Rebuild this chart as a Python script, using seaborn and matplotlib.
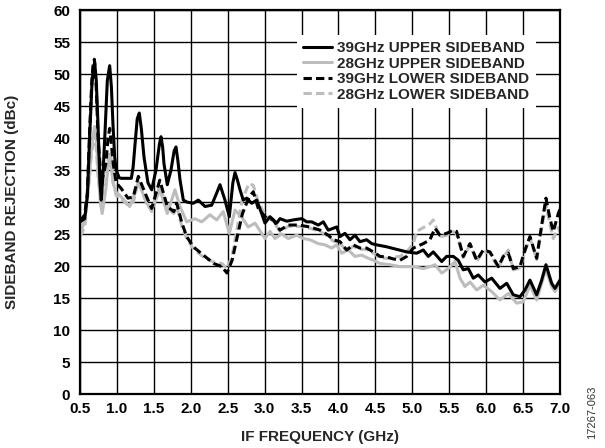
import matplotlib
matplotlib.use("Agg")
import matplotlib.pyplot as plt
import seaborn as sns
import pandas as pd

# IF frequency (GHz) and sideband rejection (dBc) for each trace
freq_39u = [0.50, 0.564, 0.60, 0.63, 0.66, 0.68, 0.699, 0.72, 0.744, 0.77, 0.788, 0.81, 0.839, 0.87,
            0.902, 0.925, 0.947, 0.97, 0.99, 1.03, 1.059, 1.195, 1.22, 1.245, 1.275, 1.303, 1.33,
            1.367, 1.42, 1.471, 1.529, 1.575, 1.597, 1.62, 1.637, 1.682, 1.732, 1.775, 1.80, 1.825,
            1.854, 1.899, 1.945, 2.034, 2.102, 2.193, 2.283, 2.351, 2.396, 2.463, 2.522, 2.57, 2.599,
            2.63, 2.667, 2.711, 2.757, 2.825, 2.893, 2.96, 3.005, 3.073, 3.163, 3.208, 3.299, 3.388,
            3.502, 3.57, 3.637, 3.727, 3.795, 3.862, 3.976, 4.021, 4.088, 4.156, 4.224, 4.291,
            4.382, 4.45, 4.518, 4.653, 4.788, 4.924, 5.059, 5.149, 5.216, 5.284, 5.398, 5.465,
            5.555, 5.622, 5.69, 5.758, 5.826, 5.893, 5.984, 6.075, 6.187, 6.278, 6.367, 6.458,
            6.526, 6.593, 6.684, 6.752, 6.81, 6.887, 6.932, 7.0]
rej_39u = [26.9, 27.4, 31.0, 40.0, 48.0, 51.0, 51.8, 49.0, 42.0, 33.0, 30.3, 34.0, 41.0, 49.0,
           51.3, 48.0, 42.0, 37.0, 35.0, 33.8, 33.7, 33.7, 35.5, 39.0, 43.0, 43.9, 41.5,
           37.0, 33.0, 31.9, 35.0, 39.0, 40.2, 38.5, 36.0, 32.7, 35.0, 38.0, 38.6, 36.5,
           33.5, 30.3, 30.0, 29.8, 30.3, 29.3, 29.5, 31.4, 32.7, 30.3, 27.7, 33.0, 34.6,
           33.5, 31.9, 30.3, 30.6, 29.8, 30.3, 28.2, 26.7, 27.7, 26.7, 27.4, 27.0, 27.2,
           27.4, 26.9, 26.9, 26.4, 26.9, 25.6, 26.1, 24.6, 25.1, 24.1, 24.8, 23.8,
           24.1, 23.5, 23.3, 23.0, 22.6, 22.2, 22.0, 22.5, 21.5, 22.2, 20.7, 21.5,
           21.5, 20.9, 19.4, 19.6, 18.1, 18.6, 17.5, 18.1, 16.5, 17.3, 15.5, 15.2,
           16.25, 17.8, 15.5, 17.8, 20.2, 17.3, 16.5, 17.8]

freq_28u = [0.50, 0.56, 0.62, 0.66, 0.699, 0.72, 0.744, 0.775, 0.80, 0.85, 0.88, 0.902, 0.925,
            0.947, 0.99, 1.059, 1.173, 1.25, 1.29, 1.403, 1.471, 1.583, 1.682, 1.786, 1.854, 1.945,
            2.057, 2.148, 2.26, 2.351, 2.44, 2.522, 2.599, 2.69, 2.779, 2.87, 2.96, 3.005, 3.073,
            3.14, 3.231, 3.32, 3.434, 3.524, 3.614, 3.727, 3.818, 3.908, 3.976, 4.044, 4.133,
            4.224, 4.314, 4.404, 4.472, 4.562, 4.698, 4.833, 5.013, 5.149, 5.239, 5.307, 5.398,
            5.487, 5.578, 5.646, 5.713, 5.781, 5.872, 5.961, 6.075, 6.187, 6.3, 6.413, 6.503,
            6.593, 6.684, 6.752, 6.81, 6.887, 6.932, 7.0]
rej_28u = [24.8, 27.0, 33.0, 39.0, 41.8, 40.0, 35.0, 30.0, 28.2, 32.0, 35.5, 36.8, 35.5,
           33.0, 31.5, 30.8, 29.3, 31.5, 33.2, 29.8, 28.8, 31.9, 28.2, 31.9, 29.3, 26.9,
           27.4, 26.9, 28.0, 27.2, 28.5, 25.1, 28.75, 27.6, 26.1, 26.7, 25.1, 24.3, 25.4,
           24.3, 25.0, 24.3, 24.8, 24.3, 24.1, 23.5, 23.3, 22.8, 23.3, 22.0, 22.5,
           21.5, 21.7, 21.2, 20.9, 20.4, 20.2, 19.9, 19.9, 19.6, 19.9, 20.2, 18.9,
           19.6, 20.7, 18.1, 16.8, 17.5, 16.25, 17.0, 16.0, 14.7, 15.7, 14.2, 14.4,
           17.0, 14.7, 17.3, 19.5, 16.8, 16.0, 17.3]

freq_39l = [0.50, 0.564, 0.60, 0.63, 0.66, 0.68, 0.695, 0.72, 0.744, 0.79, 0.85, 0.88, 0.902,
            0.925, 0.95, 0.99, 1.059, 1.15, 1.222, 1.29, 1.403, 1.471, 1.58, 1.682, 1.77, 1.81,
            1.88, 1.945, 2.034, 2.17, 2.31, 2.42, 2.49, 2.56, 2.63, 2.70, 2.79, 2.847, 2.914,
            3.005, 3.117, 3.208, 3.32, 3.457, 3.614, 3.75, 3.862, 3.93, 4.021, 4.111, 4.20, 4.291,
            4.382, 4.472, 4.562, 4.653, 4.743, 4.833, 4.924, 5.013, 5.149, 5.239, 5.307, 5.375,
            5.465, 5.555, 5.60, 5.69, 5.781, 5.872, 5.961, 6.052, 6.165, 6.232, 6.30, 6.367,
            6.458, 6.526, 6.593, 6.684, 6.752, 6.81, 6.864, 6.909, 6.977, 7.0]
rej_39l = [27.0, 28.0, 31.5, 41.0, 49.0, 51.8, 52.3, 48.0, 40.0, 33.0, 36.0, 40.0, 41.5,
           39.0, 36.0, 33.0, 32.1, 30.6, 30.8, 34.0, 30.8, 29.0, 33.4, 29.3, 28.5, 29.8,
           26.7, 24.6, 23.0, 21.7, 20.4, 19.9, 18.9, 20.9, 24.6, 28.2, 30.8, 31.6, 29.0,
           27.7, 27.2, 25.6, 26.4, 26.4, 26.1, 25.6, 24.8, 24.1, 23.8, 22.5, 23.3, 22.8,
           22.8, 22.2, 21.5, 21.4, 21.1, 20.9, 21.5, 22.8, 23.5, 24.1, 25.9, 24.8,
           25.1, 25.6, 25.4, 21.5, 23.5, 20.9, 22.5, 22.2, 19.9, 21.5, 22.0, 19.6,
           19.9, 22.5, 24.6, 21.2, 26.4, 30.6, 27.4, 25.4, 28.2, 28.9]

freq_28l = [0.50, 0.564, 0.62, 0.66, 0.699, 0.72, 0.744, 0.80, 0.85, 0.88, 0.902, 0.925, 0.95,
            0.99, 1.059, 1.15, 1.222, 1.29, 1.403, 1.471, 1.58, 1.682, 1.77, 1.81, 1.88, 1.945,
            2.034, 2.17, 2.31, 2.42, 2.49, 2.56, 2.63, 2.70, 2.79, 2.847, 2.914, 3.005, 3.117,
            3.208, 3.32, 3.457, 3.614, 3.75, 3.862, 3.93, 4.021, 4.111, 4.20, 4.291, 4.382, 4.472,
            4.562, 4.653, 4.743, 4.833, 4.924, 5.013, 5.059, 5.149, 5.239, 5.284, 5.34, 5.398,
            5.465, 5.555, 5.60, 5.69, 5.781, 5.872, 5.961, 6.052, 6.165, 6.232, 6.30, 6.367,
            6.458, 6.526, 6.593, 6.684, 6.752, 6.81, 6.864, 6.909, 6.977, 7.0]
rej_28l = [24.6, 26.0, 33.0, 38.0, 40.5, 38.5, 34.0, 29.0, 33.0, 36.5, 38.0, 36.5, 33.0,
           31.0, 30.5, 29.5, 30.0, 33.2, 29.8, 28.5, 32.6, 29.0, 28.2, 29.3, 26.2, 24.3,
           22.7, 21.4, 20.6, 20.4, 19.6, 21.6, 26.0, 30.5, 32.9, 32.6, 30.0, 28.0, 27.0,
           25.4, 26.2, 26.2, 25.9, 25.4, 24.6, 23.9, 23.6, 22.3, 23.1, 22.6, 22.6, 22.0,
           21.3, 21.2, 21.4, 21.5, 22.2, 23.5, 25.4, 26.0, 26.6, 27.2, 25.5, 24.6,
           24.8, 25.4, 25.0, 21.3, 23.3, 20.7, 22.3, 22.0, 19.7, 21.3, 22.5, 19.4,
           19.7, 22.3, 24.4, 21.0, 26.0, 29.5, 26.5, 24.3, 26.0, 25.3]

x_ticks = [0.5, 1.0, 1.5, 2.0, 2.5, 3.0, 3.5, 4.0, 4.5, 5.0, 5.5, 6.0, 6.5, 7.0]
y_ticks = list(range(0, 65, 5))

labels = ["39GHz UPPER SIDEBAND", "28GHz UPPER SIDEBAND",
          "39GHz LOWER SIDEBAND", "28GHz LOWER SIDEBAND"]

sns.set_style("white")
plt.rcParams["font.family"] = ["Liberation Sans", "DejaVu Sans"]
plt.rcParams["font.weight"] = "bold"
plt.rcParams["lines.scale_dashes"] = False

GRAY = "#bdbdbd"
DASH = (0, (6, 3))

fig = plt.figure(figsize=(6.05, 4.48), dpi=100)
ax = fig.add_axes([80 / 605, 1 - 394 / 448, 480 / 605, 384 / 448])

traces = [
    (freq_28u, rej_28u, GRAY, "-", labels[1], 2),
    (freq_28l, rej_28l, GRAY, DASH, labels[3], 3),
    (freq_39l, rej_39l, "black", DASH, labels[2], 4),
    (freq_39u, rej_39u, "black", "-", labels[0], 5),
]
for fx, fy, col, ls, lab, z in traces:
    df = pd.DataFrame({"f": fx, "r": fy})
    sns.lineplot(data=df, x="f", y="r", ax=ax, color=col, linestyle=ls,
                 linewidth=2.2, label=lab, sort=False, estimator=None, zorder=z)

ax.set_xlim(0.5, 7.0)
ax.set_ylim(0, 60)
ax.set_xticks(x_ticks)
ax.set_xticklabels([f"{v:.1f}" for v in x_ticks])
ax.set_yticks(y_ticks)
ax.grid(True, color="black", linewidth=1.0, zorder=0)
ax.set_axisbelow(True)
for s in ax.spines.values():
    s.set_color("black")
    s.set_linewidth(1.6)
    s.set_zorder(6)
ax.tick_params(axis="both", length=0, labelsize=11, colors="black")
ax.tick_params(axis="x", pad=6)
ax.tick_params(axis="y", pad=7)
for t in ax.get_xticklabels() + ax.get_yticklabels():
    t.set_fontweight("bold")

ax.set_xlabel("IF FREQUENCY (GHz)", fontsize=11, fontweight="bold")
ax.set_ylabel("SIDEBAND REJECTION (dBc)", fontsize=11, fontweight="bold")
ax.xaxis.set_label_coords(0.5, (394 - 430) / 384)
ax.yaxis.set_label_coords((19 - 80) / 480, 0.5)

handles, labs = ax.get_legend_handles_labels()
order = [labs.index(l) for l in labels]
leg = ax.legend([handles[i] for i in order], [labs[i] for i in order],
                loc="upper left", bbox_to_anchor=((297 - 80) / 480, (394 - 35) / 384),
                borderaxespad=0, borderpad=0.4, labelspacing=0.1,
                handlelength=1.9, handletextpad=0.35, fontsize=11,
                frameon=True, fancybox=False, framealpha=1.0)
leg.get_frame().set_facecolor("white")
leg.get_frame().set_edgecolor("none")
leg.set_zorder(10)
for t in leg.get_texts():
    t.set_fontweight("bold")

fig.text(592 / 605, 1 - 412 / 448, "17267-063", rotation=90, fontsize=8,
         fontweight="normal", ha="center", va="center", color="#333333")

fig.savefig("out.png", dpi=100)
